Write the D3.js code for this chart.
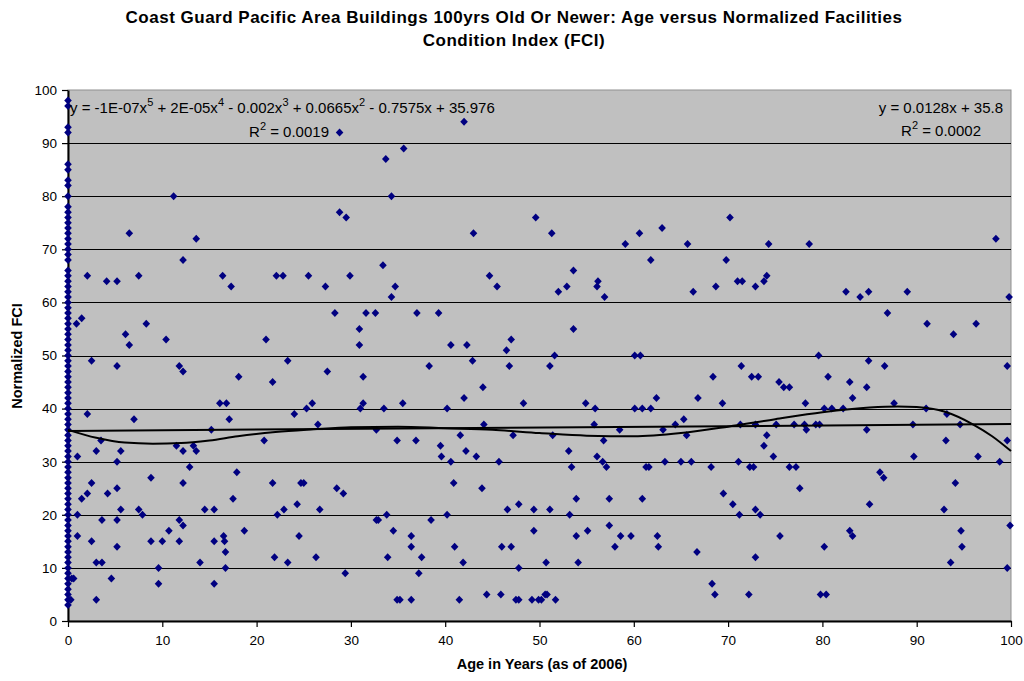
<!DOCTYPE html>
<html>
<head>
<meta charset="utf-8">
<script src="https://cdn.jsdelivr.net/npm/d3@7"></script>
<style>
    body { margin: 0; background: #ffffff; }
    text { font-family: Arial, "Liberation Sans", sans-serif; }
</style>
</head>
<body>
<div id="chart"></div>
<script>
// --- data ---
var titleLines = ['Coast Guard Pacific Area Buildings 100yrs Old Or Newer: Age versus Normalized Facilities',
    'Condition Index (FCI)'];
var xTitle = 'Age in Years (as of 2006)';
var yTitle = 'Normalized FCI';
var xTicks = [0, 10, 20, 30, 40, 50, 60, 70, 80, 90, 100];
var yTicks = [0, 10, 20, 30, 40, 50, 60, 70, 80, 90, 100];

// buildings with age 0 (newly built), FCI values stacked on the axis
var zeroAgeFci = [98, 97, 93, 92, 86, 85, 83, 82, 80, 78, 77, 76, 75, 74, 73, 72, 71, 70, 69, 68,
    66, 65, 64, 63, 62, 61, 60, 59, 58, 57, 56, 55, 54, 53, 52, 51, 50, 49, 48, 47, 46, 45, 44, 43,
    42, 41, 40, 39, 38, 37, 36, 35, 34, 33, 32, 31, 30, 29, 28, 27, 26, 25, 24, 23, 22, 21, 20, 19,
    18, 17, 16, 15, 14, 13, 12, 11, 10, 9, 8, 7, 6, 5, 4, 3];

// [age, fci] for buildings 0-33 yrs
var youngBuildings = [
    [0.9,56],[1.45,57],[2.05,65],[4.1,64],[5.2,64],[7.5,65],[16.4,65],[17.3,63],[22.1,65],[22.8,65],
    [25.5,65],[27.3,63],[29.9,65],[6.1,54],[6.5,52],[8.3,56],[10.4,53],[21,53],[28.3,58],[30.9,55],
    [30.9,52],[31.6,58],[32.6,58],[2.5,49],[5.2,48],[11.8,48],[12.2,47],[18.1,46],[23.3,49],[21.7,45],
    [27.5,47],[31.3,46],[16.1,41],[16.8,41],[25.9,41],[25.3,40],[31.3,41],[31,40],[2.05,39],[7,38],
    [17.1,38],[24,39],[26.5,37],[15.2,36],[32.7,36],[20.8,34],[3.5,34],[3,32],[5.6,32],[1,31],
    [5.2,30],[11.5,33],[12.2,32],[13.3,33],[13.6,32],[12.9,29],[8.8,27],[17.9,28],[2.5,26],[12.2,26],
    [21.7,26],[24.7,26],[25,26],[28.5,25],[29.2,24],[5.2,25],[4.2,24],[2.05,24],[1.45,23],[17.5,23],
    [24.3,22],[5.6,21],[7.5,21],[7.9,20],[14.5,21],[15.5,21],[22.9,21],[22.2,20],[26.7,21],[1,20],
    [3.6,19],[5.2,19],[11.8,19],[12.2,18],[32.7,19],[10.7,17],[18.7,17],[1,16],[24.5,16],[16.5,16],
    [16.6,15],[15.5,15],[2.5,15],[8.8,15],[10,15],[11.8,15],[5.2,14],[16.7,13],[21.9,12],[26.3,12],
    [3,11],[3.6,11],[14,11],[23.3,11],[9.6,10],[16.7,10],[29.4,9],[4.6,8],[0.6,8],[9.6,7],
    [15.5,7],[3,4],[0.3,4],[0.4,8],[28.8,92],[11.2,80],[28.8,77],[29.5,76],[6.5,73],[13.6,72],
    [12.2,68],[33.4,67]
];

// [age, fci] for buildings 33-67 yrs
var midBuildings = [
    [42,94],[35.6,89],[33.7,87],[34.3,80],[49.6,76],[51.3,73],[43,73],[63,74],[60.6,73],[59.1,71],
    [65.7,71],[61.8,68],[44.7,65],[34.7,63],[34.3,61],[45.5,63],[53.6,66],[52.9,63],[52,62],[56.2,64],
    [56.1,63],[56.9,61],[66.3,62],[37,58],[39.3,58],[53.6,55],[40.6,52],[42.3,52],[47,53],[46.5,51],
    [51.6,50],[60.1,50],[60.7,50],[38.3,48],[42.9,49],[46.8,48],[51.1,48],[44,44],[42,42],[62.4,42],
    [66.8,42],[33.5,40],[35.5,41],[40.2,40],[48.3,41],[54.9,41],[55.9,40],[60.1,40],[60.9,40],[61.8,40],
    [44.1,37],[55.8,37],[64.4,37],[65.3,38],[58.5,36],[63.1,36],[41.6,35],[47.2,35],[51.4,35],[65.6,35],
    [34.9,34],[36.9,34],[56.8,34],[39.5,33],[42.2,32],[39.6,31],[43.3,31],[53.1,32],[56.1,31],[56.7,30],
    [57.1,29],[40.6,30],[45.7,30],[53.4,29],[61.3,29],[61.6,29],[63.3,30],[65,30],[66.1,30],[40.9,26],
    [43.9,25],[53.9,23],[57.4,23],[60.9,23],[46.6,21],[47.8,22],[49.4,21],[51.1,21],[32.9,19],[33.8,20],
    [38.5,19],[40.2,20],[53.2,20],[57.4,18],[34.5,17],[36.4,16],[49.4,17],[53.9,16],[55.1,17],[58.6,16],
    [59.7,16],[62.5,16],[36.4,14],[41,14],[46,14],[47,14],[58,14],[62.6,14],[66.7,13],[33.9,12],
    [37.5,12],[41.9,11],[50.7,11],[54.1,11],[37.2,9],[47.8,10],[34.9,4],[35.2,4],[36.4,4],[41.5,4],
    [44.4,5],[45.9,5],[47.5,4],[47.8,4],[49.2,4],[49.9,4],[50.2,4],[50.6,5],[50.8,5],[51.7,4]
];

// [age, fci] for buildings 67-100 yrs
var oldBuildings = [
    [70.2,76],[74.3,71],[78.6,71],[98.4,72],[69.8,68],[71,64],[71.5,64],[68.7,63],[72.9,63],[73.8,64],
    [74.1,65],[82.5,62],[84,61],[84.9,62],[89,62],[99.8,61],[86.9,58],[91.1,56],[93.9,54],[96.3,56],
    [79.6,50],[84.9,49],[86.6,48],[99.6,48],[71.4,48],[68.4,46],[72.5,46],[73.2,46],[75.4,45],[75.9,44],
    [76.5,44],[80.6,46],[82.9,45],[84.7,44],[83.2,42],[69.4,41],[78.2,41],[87.6,41],[80.2,40],[81,40],
    [82.2,40],[91,40],[93.2,39],[71.3,37],[72.9,37],[75.1,37],[77,37],[78.1,37],[78.3,36],[79.3,37],
    [79.7,37],[84.7,36],[89.6,37],[94.6,37],[99.6,34],[93.1,34],[74.1,35],[73.8,33],[74.8,31],[68.2,29],
    [71.1,30],[72.3,29],[72.7,29],[76.5,29],[77.2,29],[89.7,31],[96.5,31],[98.8,30],[86.1,28],[86.5,27],
    [94.1,26],[77.6,25],[69.5,24],[70.5,22],[85,22],[72.9,21],[73.4,20],[71.2,20],[92.9,21],[99.9,18],
    [82.9,17],[83.2,16],[75.5,16],[94.7,17],[94.8,14],[72.9,12],[80.2,14],[93.6,11],[99.6,10],[68.3,7],
    [68.6,5],[72.2,5],[79.8,5],[80.4,5]
];

// linear trendline as labelled on the chart
var linSlope = 0.0128;
var linIntercept = 35.8;
// 5th order polynomial trendline
var polyTrend = [[0,36],[3,34.5],[6,33.6],[9,33.4],[12,33.5],[15,34],[18,34.8],[22,35.6],[26,36.1],
    [30,36.5],[35,36.6],[40,36.3],[45,36],[50,35.4],[55,34.9],[60,34.8],[65,35.4],[70,36.6],[75,38],
    [80,39.3],[85,40.2],[88,40.4],[90,40.3],[93,39.4],[96,37],[98,34.8],[100,32]];

// equation labels: [text, isSuperscript]
var polyEq = [['y = -1E-07x', 0], ['5', 1], [' + 2E-05x', 0], ['4', 1], [' - 0.002x', 0], ['3', 1],
    [' + 0.0665x', 0], ['2', 1], [' - 0.7575x + 35.976', 0]];
var polyR2 = [['R', 0], ['2', 1], [' = 0.0019', 0]];
var linEq = [['y = 0.0128x + 35.8', 0]];
var linR2 = [['R', 0], ['2', 1], [' = 0.0002', 0]];

// --- drawing ---
var width = 1024, height = 681;
var plot = {left: 68, right: 1011, top: 90, bottom: 621};

var svg = d3.select('#chart').append('svg')
        .attr('width', width)
        .attr('height', height);

var x = d3.scaleLinear().domain([0, 100]).range([plot.left, plot.right]);
var y = d3.scaleLinear().domain([0, 100]).range([plot.bottom, plot.top]);

// title
svg.append('g').selectAll('text').data(titleLines).enter().append('text')
        .attr('x', 514)
        .attr('y', function(d, i){ return 23 + i * 23; })
        .attr('text-anchor', 'middle')
        .style('font-weight', 'bold')
        .style('font-size', '17px')
        .style('letter-spacing', '0.5px')
        .text(function(d){ return d; });

// plot area
svg.append('rect')
        .attr('x', plot.left)
        .attr('y', plot.top)
        .attr('width', plot.right - plot.left)
        .attr('height', plot.bottom - plot.top)
        .attr('fill', '#c0c0c0')
        .attr('stroke', '#909090')
        .attr('stroke-width', 1);

svg.append('g').selectAll('line').data(yTicks.filter(function(d){ return d > 0 && d < 100; }))
        .enter().append('line')
        .attr('x1', plot.left)
        .attr('x2', plot.right)
        .attr('y1', function(d){ return Math.round(y(d)) + 0.5; })
        .attr('y2', function(d){ return Math.round(y(d)) + 0.5; })
        .attr('stroke', '#000000')
        .attr('stroke-width', 1);

// axes
var xAxis = d3.axisBottom(x).tickValues(xTicks).tickSize(6).tickSizeOuter(0).tickPadding(8);
var yAxis = d3.axisLeft(y).tickValues(yTicks).tickSize(6).tickSizeOuter(0).tickPadding(5);

var gx = svg.append('g')
        .attr('transform', 'translate(0,' + plot.bottom + ')')
        .call(xAxis);
var gy = svg.append('g')
        .attr('transform', 'translate(' + plot.left + ',0)')
        .call(yAxis);

[gx, gy].forEach(function(g){
    g.select('.domain').attr('stroke', '#000000').attr('stroke-width', 2);
    g.selectAll('.tick line').attr('stroke', '#000000').attr('stroke-width', 1.2);
    g.selectAll('.tick text')
            .attr('fill', '#000000')
            .style('font-size', '13.5px')
            .style('font-family', 'Arial, "Liberation Sans", sans-serif');
});

// axis titles
svg.append('text')
        .attr('x', 542)
        .attr('y', 669)
        .attr('text-anchor', 'middle')
        .style('font-weight', 'bold')
        .style('font-size', '14.5px')
        .text(xTitle);

svg.append('text')
        .attr('transform', 'translate(22,' + 356 + ')rotate(270)')
        .attr('text-anchor', 'middle')
        .style('font-weight', 'bold')
        .style('font-size', '14.5px')
        .text(yTitle);

// points
var points = zeroAgeFci.map(function(v){ return [0, v]; })
        .concat(youngBuildings, midBuildings, oldBuildings);

var diamond = 'M0,-4L3.8,0L0,4L-3.8,0Z';
svg.append('g').selectAll('path').data(points).enter().append('path')
        .attr('d', diamond)
        .attr('transform', function(d){ return 'translate(' + x(d[0]) + ',' + y(d[1]) + ')'; })
        .attr('fill', '#000080');

// trendlines
svg.append('line')
        .attr('x1', x(0))
        .attr('y1', y(linIntercept))
        .attr('x2', x(100))
        .attr('y2', y(linIntercept + linSlope * 100))
        .attr('stroke', '#000000')
        .attr('stroke-width', 2);

var polyLine = d3.line()
        .x(function(d){ return x(d[0]); })
        .y(function(d){ return y(d[1]); })
        .curve(d3.curveMonotoneX);

svg.append('path')
        .attr('d', polyLine(polyTrend))
        .attr('fill', 'none')
        .attr('stroke', '#000000')
        .attr('stroke-width', 2);

// equation labels
var drawEquation = function(parts, px, py, anchor){
    var t = svg.append('text')
            .attr('x', px)
            .attr('y', py)
            .attr('text-anchor', anchor)
            .style('font-size', '15px');
    parts.forEach(function(p, i){
        var span = t.append('tspan').text(p[0]);
        if (p[1]) {
            span.attr('dy', -7).style('font-size', '11px');
        } else if (i > 0 && parts[i - 1][1]) {
            span.attr('dy', 7);
        }
    });
    return t;
};

drawEquation(polyEq, 70, 113, 'start');
drawEquation(polyR2, 329, 137, 'end');
drawEquation(linEq, 1003, 113, 'end');
drawEquation(linR2, 981, 136, 'end');
</script>
</body>
</html>
